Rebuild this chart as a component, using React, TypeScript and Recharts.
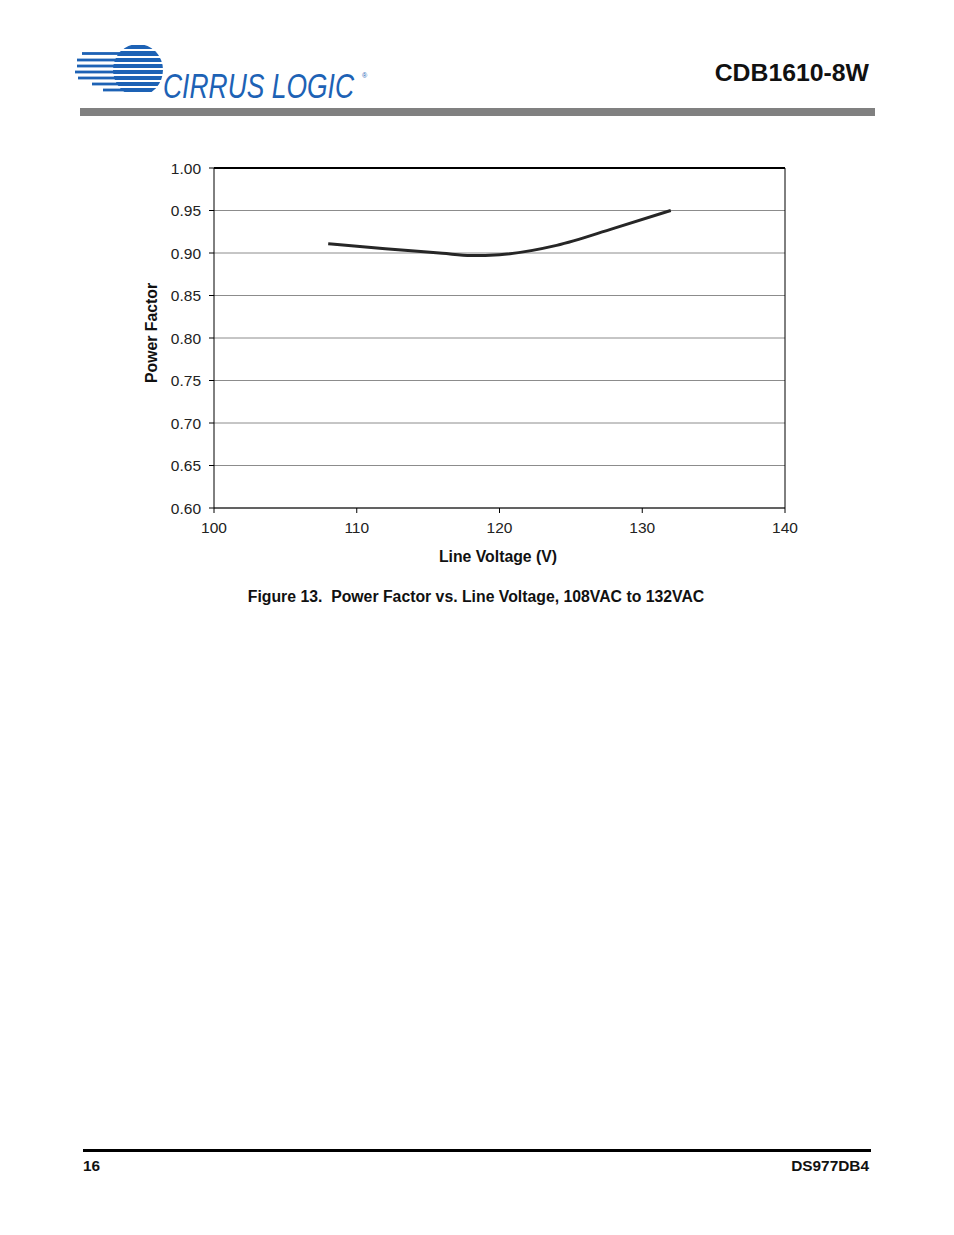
import { LineChart, Line, XAxis, YAxis, CartesianGrid, ReferenceLine } from 'recharts'

// Line voltage (V) and measured power factor
const VOLTAGE = [108, 112, 116, 118, 120, 124, 128, 132]
const POWER_FACTOR = [0.911, 0.905, 0.8997, 0.897, 0.898, 0.909, 0.929, 0.95]

const X_TICKS = [100, 110, 120, 130, 140]
const Y_TICKS = [0.6, 0.65, 0.7, 0.75, 0.8, 0.85, 0.9, 0.95, 1.0]

const data = VOLTAGE.map((v, i) => ({ v, pf: POWER_FACTOR[i] }))

const FONT = '"Liberation Sans", Arial, sans-serif'
const BLUE = '#1d62b5'

// Stripe rows of the logo: [top, height, left end]
const STRIPES: [number, number, number][] = [
  [45, 4, 128], [51, 5, 82], [58, 4, 77], [64, 4, 77],
  [70, 4, 75], [76, 4, 78], [82, 4, 92], [88, 4, 103],
]

function Logo() {
  return (
    <svg width={320} height={70} style={{ position: 'absolute', left: 70, top: 40 }}>
      <defs>
        <clipPath id="dome">
          <ellipse cx={68} cy={30} rx={25} ry={26} />
        </clipPath>
      </defs>
      {STRIPES.map(([t, h, l], i) => (
        <g key={i}>
          {l - 70 < 55 && (
            <rect x={l - 70} y={t - 40 + h / 2 - 1.4} width={60 - (l - 70)} height={2.8} fill={BLUE} />
          )}
          <rect x={0} y={t - 40} width={100} height={h} fill={BLUE} clipPath="url(#dome)" />
        </g>
      ))}
      <text transform="translate(93 58) scale(1 1.35)" x={0} y={0} fill={BLUE} fontFamily={FONT}
        fontSize={26.5} fontStyle="italic" textLength={191} lengthAdjust="spacingAndGlyphs">CIRRUS LOGIC</text>
      <text x={292} y={38} fill={BLUE} fontFamily={FONT} fontSize={7}>®</text>
    </svg>
  )
}

const txt = (extra: React.CSSProperties): React.CSSProperties => ({
  position: 'absolute', fontFamily: FONT, fontWeight: 'bold', color: '#111', whiteSpace: 'nowrap', ...extra,
})

export default function App() {
  return (
    <div style={{ position: 'absolute', left: 0, top: 0, width: 954, height: 1235, background: '#fff' }}>
      <Logo />
      <div style={txt({ right: 85, top: 59, fontSize: 24.8 })}>CDB1610-8W</div>
      <div style={{ position: 'absolute', left: 80, top: 108, width: 795, height: 8, background: '#808080' }} />

      <LineChart width={954} height={580} data={data}
        margin={{ top: 168, right: 169, left: 130, bottom: 42 }}
        style={{ position: 'absolute', left: 0, top: 0 }}>
        <CartesianGrid vertical={false} stroke="#8c8c8c" strokeWidth={1} />
        <XAxis dataKey="v" type="number" domain={[100, 140]} ticks={X_TICKS} height={30}
          stroke="#000" tickSize={5} tickMargin={9} tickLine={{ stroke: '#000' }}
          tick={{ fill: '#222', fontSize: 15.5, fontFamily: FONT }} />
        <YAxis type="number" domain={[0.6, 1.0]} ticks={Y_TICKS} width={84}
          stroke="#000" tickSize={5} tickMargin={8} tickFormatter={(t: number) => t.toFixed(2)}
          tick={{ fill: '#222', fontSize: 15.5, fontFamily: FONT }} />
        <ReferenceLine y={1.0} stroke="#000" strokeWidth={2} />
        <ReferenceLine x={140} stroke="#000" strokeWidth={1} />
        <Line dataKey="pf" type="monotone" stroke="#262626" strokeWidth={3} dot={false}
          isAnimationActive={false} />
      </LineChart>

      <div style={txt({ left: 152, top: 333, fontSize: 15.8, transform: 'translate(-50%, -50%) rotate(-90deg)' })}>
        Power Factor
      </div>
      <div style={txt({ left: 498, top: 557, fontSize: 15.8, transform: 'translate(-50%, -50%)' })}>
        Line Voltage (V)
      </div>
      <div style={txt({ left: 476, top: 597, fontSize: 15.8, transform: 'translate(-50%, -50%)', whiteSpace: 'pre' })}>
        {'Figure 13.  Power Factor vs. Line Voltage, 108VAC to 132VAC'}
      </div>

      <div style={{ position: 'absolute', left: 83, top: 1149, width: 788, height: 3, background: '#000' }} />
      <div style={txt({ left: 83, top: 1157, fontSize: 15.4 })}>16</div>
      <div style={txt({ right: 85, top: 1157, fontSize: 15.4 })}>DS977DB4</div>
    </div>
  )
}
